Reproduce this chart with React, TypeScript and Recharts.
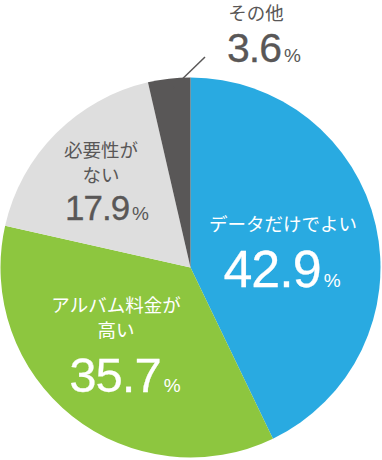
import { Pie, PieChart, Cell } from 'recharts';

const names = ['データだけでよい', 'アルバム料金が高い', '必要性がない', 'その他'];
const values = [42.9, 35.7, 17.9, 3.6];
const nameLines = [['データだけでよい'], ['アルバム料金が', '高い'], ['必要性が', 'ない'], ['その他']];
const COLORS = ['#29aae1', '#8dc63f', '#dedede', '#595757'];

const data = names.map((name, i) => ({ name, value: values[i] }));

// label layout (text only)
const labelPos = [
  { x: 283, lines: [231], vx: 282, vy: 287, size: 52, color: '#fff' },
  { x: 116, lines: [312, 337], vx: 125, vy: 392, size: 49, color: '#fff' },
  { x: 101, lines: [157, 182], vx: 107, vy: 220, size: 35, color: '#595757' },
  { x: 256, lines: [20], vx: 264, vy: 62, size: 41, color: '#595757' },
];

const jp = '"Noto Sans CJK JP", sans-serif';
const num = '"Liberation Sans", Arial, sans-serif';

export default function App() {
  return (
    <div style={{ position: 'absolute', left: 0, top: 0, width: 382, height: 460 }}>
      <PieChart width={382} height={460} margin={{ top: 0, right: 0, bottom: 0, left: 0 }}>
        <Pie
          data={data}
          dataKey="value"
          cx={190.5}
          cy={267.5}
          outerRadius={190}
          startAngle={90}
          endAngle={-270}
          stroke="none"
          isAnimationActive={false}
        >
          {data.map((entry, index) => (
            <Cell key={`cell-${index}`} fill={COLORS[index]} />
          ))}
        </Pie>
      </PieChart>
      <svg width={382} height={460} style={{ position: 'absolute', left: 0, top: 0 }}>
        <line x1={173} y1={88} x2={205} y2={57} stroke="#595757" strokeWidth={1.5} />
        {labelPos.map((p, i) => (
          <g key={i} fill={p.color}>
            {nameLines[i].map((t, j) => (
              <text key={j} x={p.x} y={p.lines[j]} textAnchor="middle" fontFamily={jp} fontSize={18.5}>
                {t}
              </text>
            ))}
            <text x={p.vx} y={p.vy} textAnchor="middle" fontFamily={num}>
              <tspan fontSize={p.size} letterSpacing={-1} stroke={p.color} strokeWidth={0.3}>
                {values[i]}
              </tspan>
              <tspan fontSize={19} dx={3}>%</tspan>
            </text>
          </g>
        ))}
      </svg>
    </div>
  );
}
